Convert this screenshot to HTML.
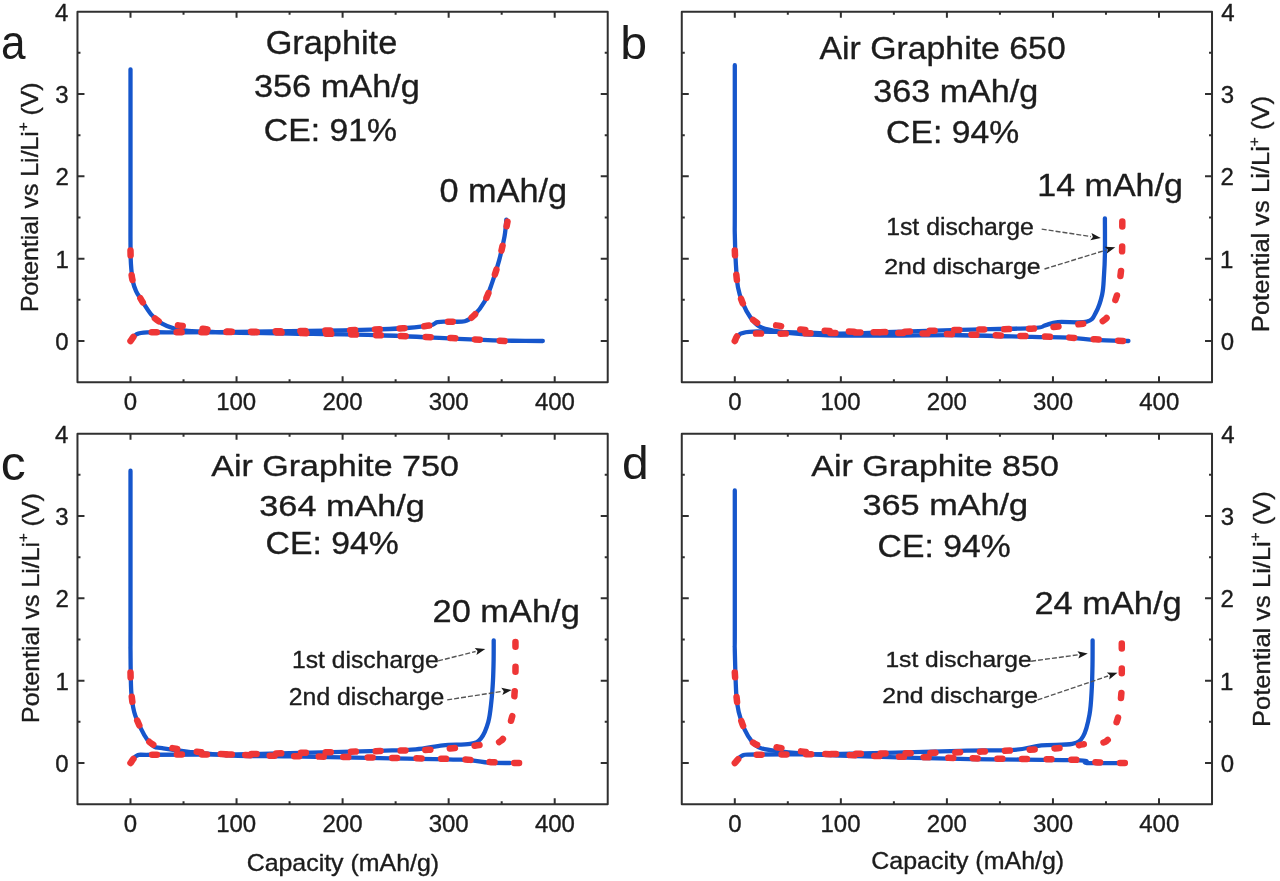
<!DOCTYPE html>
<html><head><meta charset="utf-8"><title>Graphite charge-discharge</title>
<style>html,body{margin:0;padding:0;background:#fff;width:1280px;height:881px;overflow:hidden}</style>
</head><body>
<svg width="1280" height="881" viewBox="0 0 1280 881" style="display:block;font-family:'Liberation Sans', sans-serif;filter:blur(0.45px)">
<rect width="1280" height="881" fill="#fff"/>
<style>text{stroke:#1c1c1c;stroke-width:0.35;stroke-linejoin:round}</style>
<rect x="77.47" y="11.68" width="530.25" height="370.49" fill="none" stroke="#303030" stroke-width="2" stroke-linejoin="round"/>
<path d="M130.50,382.17v-6M130.50,11.68v6M236.55,382.17v-6M236.55,11.68v6M342.60,382.17v-6M342.60,11.68v6M448.65,382.17v-6M448.65,11.68v6M554.70,382.17v-6M554.70,11.68v6M183.53,382.17v-3M183.53,11.68v3M289.57,382.17v-3M289.57,11.68v3M395.62,382.17v-3M395.62,11.68v3M501.68,382.17v-3M501.68,11.68v3M77.47,341.00h7M607.73,341.00h-7M77.47,258.67h7M607.73,258.67h-7M77.47,176.34h7M607.73,176.34h-7M77.47,94.01h7M607.73,94.01h-7M77.47,299.83h3M607.73,299.83h-3M77.47,217.50h3M607.73,217.50h-3M77.47,135.18h3M607.73,135.18h-3M77.47,52.85h3M607.73,52.85h-3" stroke="#303030" stroke-width="2" fill="none"/>
<rect x="681.77" y="11.68" width="530.25" height="370.49" fill="none" stroke="#303030" stroke-width="2" stroke-linejoin="round"/>
<path d="M734.80,382.17v-6M734.80,11.68v6M840.85,382.17v-6M840.85,11.68v6M946.90,382.17v-6M946.90,11.68v6M1052.95,382.17v-6M1052.95,11.68v6M1159.00,382.17v-6M1159.00,11.68v6M787.82,382.17v-3M787.82,11.68v3M893.88,382.17v-3M893.88,11.68v3M999.92,382.17v-3M999.92,11.68v3M1105.97,382.17v-3M1105.97,11.68v3M681.77,341.00h7M1212.03,341.00h-7M681.77,258.67h7M1212.03,258.67h-7M681.77,176.34h7M1212.03,176.34h-7M681.77,94.01h7M1212.03,94.01h-7M681.77,299.83h3M1212.03,299.83h-3M681.77,217.50h3M1212.03,217.50h-3M681.77,135.18h3M1212.03,135.18h-3M681.77,52.85h3M1212.03,52.85h-3" stroke="#303030" stroke-width="2" fill="none"/>
<rect x="77.47" y="433.68" width="530.25" height="370.48" fill="none" stroke="#303030" stroke-width="2" stroke-linejoin="round"/>
<path d="M130.50,804.16v-6M130.50,433.68v6M236.55,804.16v-6M236.55,433.68v6M342.60,804.16v-6M342.60,433.68v6M448.65,804.16v-6M448.65,433.68v6M554.70,804.16v-6M554.70,433.68v6M183.53,804.16v-3M183.53,433.68v3M289.57,804.16v-3M289.57,433.68v3M395.62,804.16v-3M395.62,433.68v3M501.68,804.16v-3M501.68,433.68v3M77.47,763.00h7M607.73,763.00h-7M77.47,680.67h7M607.73,680.67h-7M77.47,598.34h7M607.73,598.34h-7M77.47,516.01h7M607.73,516.01h-7M77.47,721.84h3M607.73,721.84h-3M77.47,639.50h3M607.73,639.50h-3M77.47,557.17h3M607.73,557.17h-3M77.47,474.85h3M607.73,474.85h-3" stroke="#303030" stroke-width="2" fill="none"/>
<rect x="681.77" y="433.68" width="530.25" height="370.48" fill="none" stroke="#303030" stroke-width="2" stroke-linejoin="round"/>
<path d="M734.80,804.16v-6M734.80,433.68v6M840.85,804.16v-6M840.85,433.68v6M946.90,804.16v-6M946.90,433.68v6M1052.95,804.16v-6M1052.95,433.68v6M1159.00,804.16v-6M1159.00,433.68v6M787.82,804.16v-3M787.82,433.68v3M893.88,804.16v-3M893.88,433.68v3M999.92,804.16v-3M999.92,433.68v3M1105.97,804.16v-3M1105.97,433.68v3M681.77,763.00h7M1212.03,763.00h-7M681.77,680.67h7M1212.03,680.67h-7M681.77,598.34h7M1212.03,598.34h-7M681.77,516.01h7M1212.03,516.01h-7M681.77,721.84h3M1212.03,721.84h-3M681.77,639.50h3M1212.03,639.50h-3M681.77,557.17h3M1212.03,557.17h-3M681.77,474.85h3M1212.03,474.85h-3" stroke="#303030" stroke-width="2" fill="none"/>
<path d="M130.50,69.31 C130.50,92.64 130.50,180.46 130.50,209.27 C130.50,238.09 130.43,233.15 130.50,242.20 C130.57,251.26 130.52,257.02 130.92,263.61 C131.33,270.20 132.04,277.06 132.94,281.72 C133.84,286.39 135.10,288.86 136.33,291.60 C137.57,294.35 137.87,294.35 140.36,298.19 C142.85,302.03 147.66,310.40 151.29,314.65 C154.91,318.91 158.25,321.38 162.10,323.71 C165.96,326.04 170.09,327.47 174.40,328.65 C178.72,329.83 181.16,330.21 187.98,330.79 C194.80,331.37 206.71,331.78 215.34,332.11 C223.97,332.44 227.36,332.52 239.73,332.77 C252.10,333.01 266.28,333.18 289.57,333.59 C312.87,334.00 352.46,334.41 379.51,335.24 C406.55,336.06 433.77,337.71 451.83,338.53 C469.90,339.35 477.81,339.81 487.89,340.18 C497.96,340.55 503.12,340.62 512.28,340.75 C521.44,340.89 537.73,340.96 542.82,341.00" fill="none" stroke="#1656cc" stroke-width="4.3" stroke-linecap="round" stroke-linejoin="round"/>
<path d="M130.50,341.00 C131.47,339.90 133.56,335.85 136.33,334.41 C139.11,332.97 139.28,332.70 147.15,332.36 C155.02,332.01 168.62,332.42 183.53,332.36 C198.43,332.29 218.88,332.15 236.55,331.94 C254.23,331.74 271.90,331.39 289.57,331.12 C307.25,330.85 327.61,330.60 342.60,330.30 C357.59,330.00 368.83,329.69 379.51,329.31 C390.18,328.92 398.19,328.65 406.65,327.99 C415.12,327.33 425.16,326.35 430.30,325.36 C435.45,324.37 434.46,322.68 437.51,322.06 C440.57,321.45 444.11,321.79 448.65,321.65 C453.19,321.52 460.56,322.27 464.77,321.24 C468.98,320.21 470.58,318.77 473.89,315.48 C477.20,312.18 481.60,306.83 484.60,301.48 C487.61,296.13 489.50,290.23 491.92,283.37 C494.34,276.51 497.03,268.14 499.13,260.32 C501.23,252.50 503.34,243.23 504.54,236.44 C505.74,229.65 506.04,222.38 506.34,219.56" fill="none" stroke="#1656cc" stroke-width="4.3" stroke-linecap="round" stroke-linejoin="round"/>
<path d="M734.80,65.19 C734.80,89.21 734.80,181.14 734.80,209.27 C734.80,237.40 734.62,224.91 734.80,233.97 C734.98,243.03 735.33,254.69 735.86,263.61 C736.39,272.53 736.83,280.90 737.98,287.49 C739.13,294.07 740.70,298.19 742.75,303.13 C744.80,308.07 747.46,313.20 750.28,317.12 C753.11,321.05 755.66,324.40 759.72,326.67 C763.79,328.95 767.69,329.54 774.67,330.79 C781.66,332.04 790.76,333.37 801.61,334.17 C812.46,334.96 824.41,335.32 839.79,335.57 C855.17,335.81 873.90,335.70 893.88,335.65 C913.85,335.59 936.65,335.03 959.63,335.24 C982.60,335.44 1013.57,336.47 1031.74,336.88 C1049.91,337.30 1057.97,337.20 1068.65,337.71 C1079.32,338.21 1085.83,339.38 1095.79,339.93 C1105.76,340.48 1123.01,340.82 1128.46,341.00" fill="none" stroke="#1656cc" stroke-width="4.3" stroke-linecap="round" stroke-linejoin="round"/>
<path d="M734.80,341.00 C735.77,339.77 737.45,335.17 740.63,333.59 C743.81,332.01 746.02,331.77 753.89,331.53 C761.75,331.30 773.51,331.85 787.82,332.19 C802.14,332.53 822.11,333.63 839.79,333.59 C857.46,333.55 873.87,332.56 893.88,331.94 C913.88,331.33 936.74,330.53 959.84,329.89 C982.94,329.24 1018.27,328.83 1032.48,328.07 C1046.69,327.32 1040.88,326.36 1045.10,325.36 C1049.33,324.36 1050.86,322.68 1057.83,322.06 C1064.79,321.45 1080.56,323.23 1086.89,321.65 C1093.21,320.07 1093.25,317.12 1095.79,312.60 C1098.34,308.07 1100.80,300.59 1102.16,294.48 C1103.52,288.38 1103.50,282.61 1103.96,275.96 C1104.42,269.30 1104.76,264.16 1104.91,254.55 C1105.07,244.95 1104.91,224.37 1104.91,218.33" fill="none" stroke="#1656cc" stroke-width="4.3" stroke-linecap="round" stroke-linejoin="round"/>
<path d="M130.50,470.73 C130.50,497.49 130.50,601.36 130.50,631.27 C130.50,661.19 130.38,640.19 130.50,650.21 C130.62,660.22 130.62,681.08 131.24,691.37 C131.86,701.66 132.62,705.78 134.21,711.96 C135.80,718.13 138.58,723.76 140.79,728.42 C143.00,733.09 145.26,736.93 147.47,739.95 C149.68,742.97 151.60,745.16 154.04,746.53 C156.48,747.91 156.32,747.30 162.10,748.18 C167.88,749.06 176.91,750.57 188.72,751.80 C200.53,753.04 216.14,754.82 232.94,755.59 C249.75,756.36 265.15,756.00 289.57,756.41 C314.00,756.83 350.92,757.51 379.51,758.06 C408.09,758.61 442.92,758.95 461.06,759.71 C479.19,760.46 480.15,762.04 488.31,762.59 C496.48,763.14 506.43,762.93 510.05,763.00" fill="none" stroke="#1656cc" stroke-width="4.3" stroke-linecap="round" stroke-linejoin="round"/>
<path d="M130.50,763.00 C131.60,761.77 133.54,756.96 137.08,755.59 C140.61,754.22 135.13,754.97 151.71,754.77 C168.29,754.56 213.57,754.63 236.55,754.36 C259.53,754.08 265.75,753.71 289.57,753.12 C313.40,752.53 358.47,751.45 379.51,750.82 C400.54,750.18 405.19,750.25 415.77,749.33 C426.36,748.41 433.96,746.20 443.03,745.30 C452.10,744.39 463.85,745.07 470.18,743.90 C476.51,742.73 477.97,741.98 481.00,738.30 C484.02,734.62 486.58,728.01 488.31,721.84 C490.04,715.66 490.61,708.11 491.39,701.25 C492.17,694.39 492.61,687.53 492.98,680.67 C493.35,673.81 493.49,666.81 493.62,660.09 C493.74,653.36 493.70,643.62 493.72,640.33" fill="none" stroke="#1656cc" stroke-width="4.3" stroke-linecap="round" stroke-linejoin="round"/>
<path d="M734.80,490.49 C734.80,513.95 734.80,604.65 734.80,631.27 C734.80,657.89 734.55,639.71 734.80,650.21 C735.05,660.70 735.63,683.96 736.28,694.25 C736.94,704.55 737.33,706.06 738.72,711.96 C740.12,717.86 742.45,724.72 744.66,729.66 C746.87,734.60 749.65,738.64 751.98,741.59 C754.31,744.54 755.34,745.89 758.66,747.36 C761.98,748.83 763.57,749.28 771.92,750.40 C780.26,751.53 797.42,753.24 808.72,754.11 C820.01,754.97 814.53,754.79 839.68,755.59 C864.83,756.39 920.25,758.12 959.63,758.88 C999.01,759.65 1054.75,759.51 1075.96,760.20 C1097.17,760.89 1079.04,762.53 1086.89,763.00 C1094.73,763.47 1117.02,763.00 1123.05,763.00" fill="none" stroke="#1656cc" stroke-width="4.3" stroke-linecap="round" stroke-linejoin="round"/>
<path d="M734.80,763.00 C736.07,761.77 738.72,757.00 742.44,755.59 C746.15,754.18 740.67,754.79 757.07,754.52 C773.47,754.25 807.06,754.56 840.85,753.94 C874.64,753.33 930.94,751.49 959.84,750.82 C988.74,750.14 1000.65,750.83 1014.24,749.91 C1027.83,748.99 1031.72,746.30 1041.39,745.30 C1051.06,744.30 1065.29,745.41 1072.25,743.90 C1079.22,742.39 1080.29,741.16 1083.17,736.24 C1086.06,731.33 1088.11,722.32 1089.54,714.43 C1090.97,706.54 1091.27,697.27 1091.76,688.90 C1092.26,680.53 1092.37,672.30 1092.51,664.20 C1092.65,656.11 1092.60,644.31 1092.61,640.33" fill="none" stroke="#1656cc" stroke-width="4.3" stroke-linecap="round" stroke-linejoin="round"/>
<path d="M130.50,250.44 C130.59,253.18 130.62,261.69 131.03,266.90 C131.44,272.12 131.38,276.51 132.94,281.72 C134.49,286.94 137.30,292.70 140.36,298.19 C143.42,303.68 147.66,310.54 151.29,314.65 C154.91,318.77 157.61,321.10 162.10,322.89 C166.59,324.67 171.65,324.40 178.22,325.36 C184.80,326.32 193.42,327.62 201.55,328.65 C209.68,329.68 212.34,330.85 227.01,331.53 C241.68,332.22 264.30,332.15 289.57,332.77 C314.85,333.38 351.61,334.34 378.66,335.24 C405.70,336.13 434.86,337.36 451.83,338.12 C468.80,338.87 471.68,339.28 480.46,339.77 C489.25,340.25 500.53,340.79 504.54,341.00" fill="none" stroke="#ee3636" stroke-width="6.5" stroke-linecap="round" stroke-linejoin="round" stroke-dasharray="5.00 19.786"/>
<path d="M130.50,341.00 C131.47,339.90 133.56,335.85 136.33,334.41 C139.11,332.97 139.28,332.70 147.15,332.36 C155.02,332.01 168.62,332.42 183.53,332.36 C198.43,332.29 218.88,332.15 236.55,331.94 C254.23,331.74 271.90,331.39 289.57,331.12 C307.25,330.85 327.61,330.60 342.60,330.30 C357.59,330.00 368.83,329.69 379.51,329.31 C390.18,328.92 398.19,328.65 406.65,327.99 C415.12,327.33 425.16,326.35 430.30,325.36 C435.45,324.37 434.46,322.68 437.51,322.06 C440.57,321.45 444.11,321.79 448.65,321.65 C453.19,321.52 460.56,322.27 464.77,321.24 C468.98,320.21 470.58,318.77 473.89,315.48 C477.20,312.18 481.60,306.83 484.60,301.48 C487.61,296.13 489.50,290.23 491.92,283.37 C494.34,276.51 497.03,268.14 499.13,260.32 C501.23,252.50 503.14,242.89 504.54,236.44 C505.93,229.99 507.01,224.09 507.51,221.62" fill="none" stroke="#ee3636" stroke-width="6.5" stroke-linecap="round" stroke-linejoin="round" stroke-dasharray="5.00 19.762"/>
<path d="M734.80,250.44 C734.94,253.18 735.12,260.73 735.65,266.90 C736.18,273.08 736.80,281.45 737.98,287.49 C739.17,293.52 740.70,298.19 742.75,303.13 C744.80,308.07 747.19,313.56 750.28,317.12 C753.38,320.69 757.00,323.16 761.31,324.53 C765.63,325.91 769.62,324.53 776.16,325.36 C782.70,326.18 792.42,328.57 800.55,329.47 C808.68,330.38 809.39,330.24 824.94,330.79 C840.50,331.34 871.43,332.16 893.88,332.77 C916.32,333.37 933.11,333.73 959.63,334.41 C986.14,335.10 1030.33,336.06 1052.95,336.88 C1075.57,337.71 1083.70,338.67 1095.37,339.35 C1107.04,340.04 1118.35,340.73 1122.94,341.00" fill="none" stroke="#ee3636" stroke-width="6.5" stroke-linecap="round" stroke-linejoin="round" stroke-dasharray="5.00 19.462"/>
<path d="M734.80,341.00 C735.68,339.90 735.72,335.65 740.10,334.41 C744.49,333.18 753.50,333.73 761.10,333.59 C768.70,333.45 763.57,333.86 785.70,333.59 C807.83,333.32 864.89,332.56 893.88,331.94 C922.86,331.33 936.65,330.43 959.63,329.89 C982.60,329.34 1016.19,329.13 1031.74,328.65 C1047.29,328.17 1044.38,327.83 1052.95,327.00 C1061.52,326.18 1074.51,324.95 1083.17,323.71 C1091.84,322.48 1099.35,324.12 1104.91,319.59 C1110.48,315.07 1113.93,304.36 1116.58,296.54 C1119.23,288.72 1119.90,280.35 1120.82,272.67 C1121.74,264.98 1121.85,258.94 1122.09,250.44 C1122.34,241.93 1122.27,226.42 1122.31,221.62" fill="none" stroke="#ee3636" stroke-width="6.5" stroke-linecap="round" stroke-linejoin="round" stroke-dasharray="5.00 19.807"/>
<path d="M130.50,672.44 C130.62,675.59 130.62,684.79 131.24,691.37 C131.86,697.96 132.62,705.78 134.21,711.96 C135.80,718.13 138.58,723.76 140.79,728.42 C143.00,733.09 144.94,737.07 147.47,739.95 C150.00,742.83 152.59,744.48 155.95,745.71 C159.31,746.95 161.66,746.47 167.62,747.36 C173.57,748.25 180.20,749.83 191.69,751.06 C203.18,752.30 205.39,753.67 236.55,754.77 C267.71,755.86 341.36,756.89 378.66,757.65 C415.95,758.40 441.58,758.54 460.32,759.30 C479.05,760.05 481.28,761.56 491.07,762.18 C500.86,762.79 514.40,762.86 519.07,763.00" fill="none" stroke="#ee3636" stroke-width="6.5" stroke-linecap="round" stroke-linejoin="round" stroke-dasharray="5.00 19.456"/>
<path d="M130.50,763.00 C131.56,761.90 133.33,757.79 136.86,756.41 C140.40,755.04 135.10,755.11 151.71,754.77 C168.32,754.42 213.57,754.63 236.55,754.36 C259.53,754.08 265.75,753.67 289.57,753.12 C313.40,752.57 356.35,751.61 379.51,751.06 C402.66,750.51 416.27,750.31 428.50,749.83 C440.73,749.35 444.76,748.94 452.89,748.18 C461.02,747.43 469.26,746.53 477.28,745.30 C485.31,744.06 495.28,745.37 501.04,740.77 C506.80,736.17 509.59,725.75 511.86,717.72 C514.12,709.69 514.01,700.15 514.61,692.61 C515.21,685.06 515.32,680.88 515.46,672.44 C515.60,664.00 515.46,647.05 515.46,641.97" fill="none" stroke="#ee3636" stroke-width="6.5" stroke-linecap="round" stroke-linejoin="round" stroke-dasharray="5.00 19.823"/>
<path d="M734.80,672.44 C735.05,676.07 735.63,687.67 736.28,694.25 C736.94,700.84 737.33,706.06 738.72,711.96 C740.12,717.86 742.45,724.72 744.66,729.66 C746.87,734.60 749.38,738.92 751.98,741.59 C754.58,744.27 756.70,744.86 760.25,745.71 C763.80,746.56 766.93,745.81 773.30,746.70 C779.66,747.59 787.17,749.72 798.43,751.06 C809.69,752.41 813.98,753.60 840.85,754.77 C867.72,755.93 920.74,757.24 959.63,758.06 C998.51,758.88 1051.54,759.02 1074.16,759.71 C1096.78,760.39 1086.92,761.63 1095.37,762.18 C1103.82,762.73 1119.94,762.86 1124.85,763.00" fill="none" stroke="#ee3636" stroke-width="6.5" stroke-linecap="round" stroke-linejoin="round" stroke-dasharray="5.00 19.582"/>
<path d="M734.80,763.00 C736.04,761.90 738.51,757.79 742.22,756.41 C745.94,755.04 740.63,755.18 757.07,754.77 C773.51,754.36 807.09,754.36 840.85,753.94 C874.61,753.53 923.46,753.26 959.63,752.30 C995.79,751.34 1037.24,749.50 1057.83,748.18 C1078.42,746.86 1075.03,745.63 1083.17,744.39 C1091.32,743.16 1100.97,745.01 1106.72,740.77 C1112.46,736.53 1115.22,726.64 1117.64,718.95 C1120.06,711.27 1120.56,702.42 1121.25,694.67 C1121.94,686.91 1121.69,680.94 1121.78,672.44 C1121.86,663.93 1121.78,648.42 1121.78,643.62" fill="none" stroke="#ee3636" stroke-width="6.5" stroke-linecap="round" stroke-linejoin="round" stroke-dasharray="5.00 19.804"/>
<text transform="translate(123.84,410.00) scale(1.0000,1)" font-size="24.00" fill="#1c1c1c">0</text>
<text transform="translate(216.15,410.00) scale(1.0000,1)" font-size="24.00" fill="#1c1c1c">100</text>
<text transform="translate(322.50,410.00) scale(1.0000,1)" font-size="24.00" fill="#1c1c1c">200</text>
<text transform="translate(428.67,410.00) scale(1.0000,1)" font-size="24.00" fill="#1c1c1c">300</text>
<text transform="translate(534.90,410.00) scale(1.0000,1)" font-size="24.00" fill="#1c1c1c">400</text>
<text transform="translate(728.14,410.00) scale(1.0000,1)" font-size="24.00" fill="#1c1c1c">0</text>
<text transform="translate(820.45,410.00) scale(1.0000,1)" font-size="24.00" fill="#1c1c1c">100</text>
<text transform="translate(926.80,410.00) scale(1.0000,1)" font-size="24.00" fill="#1c1c1c">200</text>
<text transform="translate(1032.97,410.00) scale(1.0000,1)" font-size="24.00" fill="#1c1c1c">300</text>
<text transform="translate(1139.20,410.00) scale(1.0000,1)" font-size="24.00" fill="#1c1c1c">400</text>
<text transform="translate(123.84,832.00) scale(1.0000,1)" font-size="24.00" fill="#1c1c1c">0</text>
<text transform="translate(216.15,832.00) scale(1.0000,1)" font-size="24.00" fill="#1c1c1c">100</text>
<text transform="translate(322.50,832.00) scale(1.0000,1)" font-size="24.00" fill="#1c1c1c">200</text>
<text transform="translate(428.67,832.00) scale(1.0000,1)" font-size="24.00" fill="#1c1c1c">300</text>
<text transform="translate(534.90,832.00) scale(1.0000,1)" font-size="24.00" fill="#1c1c1c">400</text>
<text transform="translate(728.14,832.00) scale(1.0000,1)" font-size="24.00" fill="#1c1c1c">0</text>
<text transform="translate(820.45,832.00) scale(1.0000,1)" font-size="24.00" fill="#1c1c1c">100</text>
<text transform="translate(926.80,832.00) scale(1.0000,1)" font-size="24.00" fill="#1c1c1c">200</text>
<text transform="translate(1032.97,832.00) scale(1.0000,1)" font-size="24.00" fill="#1c1c1c">300</text>
<text transform="translate(1139.20,832.00) scale(1.0000,1)" font-size="24.00" fill="#1c1c1c">400</text>
<text transform="translate(55.14,349.90) scale(1.0000,1)" font-size="24.00" fill="#1c1c1c">0</text>
<text transform="translate(55.38,267.57) scale(1.0000,1)" font-size="24.00" fill="#1c1c1c">1</text>
<text transform="translate(55.38,185.24) scale(1.0000,1)" font-size="24.00" fill="#1c1c1c">2</text>
<text transform="translate(55.26,102.91) scale(1.0000,1)" font-size="24.00" fill="#1c1c1c">3</text>
<text transform="translate(54.90,20.58) scale(1.0000,1)" font-size="24.00" fill="#1c1c1c">4</text>
<text transform="translate(1220.84,349.90) scale(1.0000,1)" font-size="24.00" fill="#1c1c1c">0</text>
<text transform="translate(1220.00,267.57) scale(1.0000,1)" font-size="24.00" fill="#1c1c1c">1</text>
<text transform="translate(1220.60,185.24) scale(1.0000,1)" font-size="24.00" fill="#1c1c1c">2</text>
<text transform="translate(1220.84,102.91) scale(1.0000,1)" font-size="24.00" fill="#1c1c1c">3</text>
<text transform="translate(1221.20,20.58) scale(1.0000,1)" font-size="24.00" fill="#1c1c1c">4</text>
<text transform="translate(55.14,771.90) scale(1.0000,1)" font-size="24.00" fill="#1c1c1c">0</text>
<text transform="translate(55.38,689.57) scale(1.0000,1)" font-size="24.00" fill="#1c1c1c">1</text>
<text transform="translate(55.38,607.24) scale(1.0000,1)" font-size="24.00" fill="#1c1c1c">2</text>
<text transform="translate(55.26,524.91) scale(1.0000,1)" font-size="24.00" fill="#1c1c1c">3</text>
<text transform="translate(54.90,442.58) scale(1.0000,1)" font-size="24.00" fill="#1c1c1c">4</text>
<text transform="translate(1220.84,771.90) scale(1.0000,1)" font-size="24.00" fill="#1c1c1c">0</text>
<text transform="translate(1220.00,689.57) scale(1.0000,1)" font-size="24.00" fill="#1c1c1c">1</text>
<text transform="translate(1220.60,607.24) scale(1.0000,1)" font-size="24.00" fill="#1c1c1c">2</text>
<text transform="translate(1220.84,524.91) scale(1.0000,1)" font-size="24.00" fill="#1c1c1c">3</text>
<text transform="translate(1221.20,442.58) scale(1.0000,1)" font-size="24.00" fill="#1c1c1c">4</text>
<text transform="translate(265.68,54.20) scale(1.0588,1)" font-size="32.41" fill="#1c1c1c" >Graphite</text>
<text transform="translate(253.93,97.30) scale(1.1106,1)" font-size="30.90" fill="#1c1c1c" >356 mAh/g</text>
<text transform="translate(263.81,141.10) scale(1.0498,1)" font-size="32.14" fill="#1c1c1c" >CE: 91%</text>
<text transform="translate(439.53,201.70) scale(1.0228,1)" font-size="33.52" fill="#1c1c1c" >0 mAh/g</text>
<text transform="translate(819.43,59.00) scale(1.0528,1)" font-size="32.14" fill="#1c1c1c" >Air Graphite 650</text>
<text transform="translate(873.23,101.80) scale(1.1051,1)" font-size="30.90" fill="#1c1c1c" >363 mAh/g</text>
<text transform="translate(886.11,143.40) scale(1.0533,1)" font-size="32.00" fill="#1c1c1c" >CE: 94%</text>
<text transform="translate(1037.35,195.75) scale(1.0563,1)" font-size="32.21" fill="#1c1c1c" >14 mAh/g</text>
<text transform="translate(886.14,235.10) scale(1.0525,1)" font-size="23.59" fill="#1c1c1c" >1st discharge</text>
<text transform="translate(884.26,273.90) scale(1.1353,1)" font-size="21.93" fill="#1c1c1c" >2nd discharge</text>
<text transform="translate(211.23,475.60) scale(1.1214,1)" font-size="30.34" fill="#1c1c1c" >Air Graphite 750</text>
<text transform="translate(259.33,516.10) scale(1.1280,1)" font-size="30.34" fill="#1c1c1c" >364 mAh/g</text>
<text transform="translate(265.51,554.40) scale(1.0741,1)" font-size="31.43" fill="#1c1c1c" >CE: 94%</text>
<text transform="translate(432.53,621.75) scale(1.0779,1)" font-size="31.93" fill="#1c1c1c" >20 mAh/g</text>
<text transform="translate(292.05,668.30) scale(1.0346,1)" font-size="23.86" fill="#1c1c1c" >1st discharge</text>
<text transform="translate(288.86,704.90) scale(1.0380,1)" font-size="23.86" fill="#1c1c1c" >2nd discharge</text>
<text transform="translate(811.23,475.60) scale(1.1214,1)" font-size="30.34" fill="#1c1c1c" >Air Graphite 850</text>
<text transform="translate(862.53,515.00) scale(1.1881,1)" font-size="28.83" fill="#1c1c1c" >365 mAh/g</text>
<text transform="translate(877.61,556.50) scale(1.0732,1)" font-size="31.43" fill="#1c1c1c" >CE: 94%</text>
<text transform="translate(1034.38,614.25) scale(1.0783,1)" font-size="31.93" fill="#1c1c1c" >24 mAh/g</text>
<text transform="translate(885.45,667.20) scale(1.1288,1)" font-size="21.79" fill="#1c1c1c" >1st discharge</text>
<text transform="translate(882.16,702.70) scale(1.0919,1)" font-size="22.76" fill="#1c1c1c" >2nd discharge</text>
<text transform="translate(0.91,59.30) scale(0.9343,1)" font-size="47.22" fill="#1c1c1c" style="stroke:none">a</text>
<text transform="translate(620.27,59.30) scale(1.0313,1)" font-size="46.76" fill="#1c1c1c" style="stroke:none">b</text>
<text transform="translate(0.81,479.80) scale(1.0360,1)" font-size="48.15" fill="#1c1c1c" style="stroke:none">c</text>
<text transform="translate(621.98,479.20) scale(1.0419,1)" font-size="46.07" fill="#1c1c1c" style="stroke:none">d</text>
<text transform="translate(246.65,871.10) scale(1.0625,1)" font-size="23.45" fill="#1c1c1c" >Capacity (mAh/g)</text>
<text transform="translate(871.25,868.70) scale(1.0685,1)" font-size="23.38" fill="#1c1c1c" >Capacity (mAh/g)</text>
<line x1="1041.70" y1="229.10" x2="1090.91" y2="236.59" stroke="#555" stroke-width="1.4" stroke-dasharray="5 2"/>
<path d="M1100.80,238.10L1090.37,240.15L1092.89,236.90L1091.46,233.04Z" fill="#1a1a1a"/>
<line x1="1044.50" y1="269.00" x2="1105.74" y2="250.14" stroke="#555" stroke-width="1.4" stroke-dasharray="5 2"/>
<path d="M1115.30,247.20L1106.80,253.58L1107.65,249.55L1104.68,246.70Z" fill="#1a1a1a"/>
<line x1="438.10" y1="660.90" x2="475.60" y2="651.53" stroke="#555" stroke-width="1.4" stroke-dasharray="5 2"/>
<path d="M485.30,649.10L476.47,655.02L477.54,651.04L474.73,648.03Z" fill="#1a1a1a"/>
<line x1="447.20" y1="699.90" x2="501.82" y2="691.43" stroke="#555" stroke-width="1.4" stroke-dasharray="5 2"/>
<path d="M511.70,689.90L502.37,694.99L503.79,691.13L501.27,687.87Z" fill="#1a1a1a"/>
<line x1="1031.10" y1="661.20" x2="1077.89" y2="654.85" stroke="#555" stroke-width="1.4" stroke-dasharray="5 2"/>
<path d="M1087.80,653.50L1078.38,658.41L1079.87,654.58L1077.41,651.28Z" fill="#1a1a1a"/>
<line x1="1037.60" y1="699.90" x2="1108.03" y2="676.01" stroke="#555" stroke-width="1.4" stroke-dasharray="5 2"/>
<path d="M1117.50,672.80L1109.19,679.42L1109.92,675.37L1106.87,672.60Z" fill="#1a1a1a"/>
<text transform="translate(38.10,312.09) rotate(-90) scale(1.0796,1)" font-size="23.03" fill="#1c1c1c">Potential vs Li/Li<tspan font-size="13.82" dy="-10.37">+</tspan><tspan dy="10.37"> (V)</tspan></text>
<text transform="translate(38.60,722.89) rotate(-90) scale(1.0478,1)" font-size="23.72" fill="#1c1c1c">Potential vs Li/Li<tspan font-size="14.23" dy="-10.68">+</tspan><tspan dy="10.68"> (V)</tspan></text>
<text transform="translate(1269.00,332.14) rotate(-90) scale(1.1096,1)" font-size="23.03" fill="#1c1c1c">Potential vs Li/Li<tspan font-size="13.82" dy="-10.37">+</tspan><tspan dy="10.37"> (V)</tspan></text>
<text transform="translate(1270.40,727.04) rotate(-90) scale(1.0769,1)" font-size="23.72" fill="#1c1c1c">Potential vs Li/Li<tspan font-size="14.23" dy="-10.68">+</tspan><tspan dy="10.68"> (V)</tspan></text>
</svg>
</body></html>
